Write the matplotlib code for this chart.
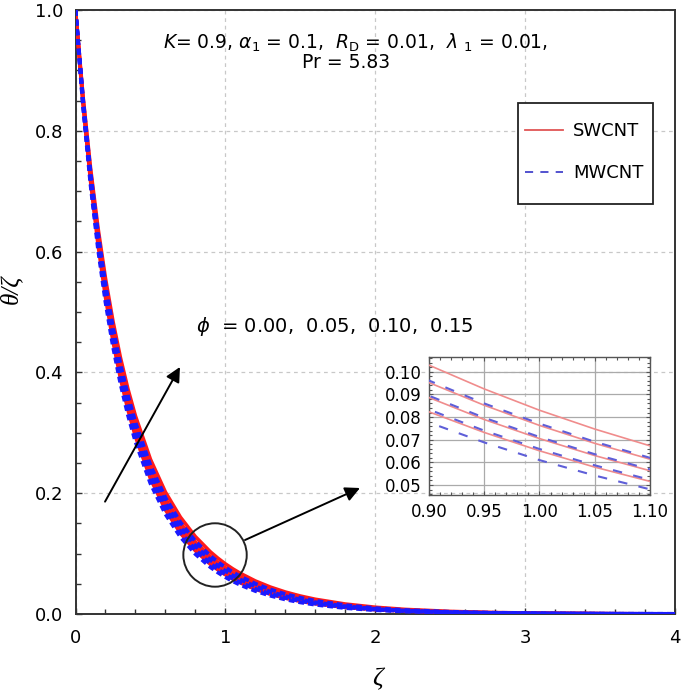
import matplotlib
matplotlib.use("Agg")
import matplotlib.pyplot as plt
from matplotlib.lines import Line2D
from matplotlib.patches import Ellipse, Rectangle
from matplotlib.ticker import MultipleLocator, FormatStrFormatter

plt.rcParams['font.family'] = ['DejaVu Sans']
plt.rcParams['mathtext.fontset'] = 'dejavusans'

# ---- data ----
zeta = [0, 0.05, 0.1, 0.15, 0.2, 0.25, 0.3, 0.35, 0.4, 0.5, 0.6, 0.7, 0.8, 0.9, 0.95,
        1.0, 1.05, 1.1, 1.2, 1.3, 1.4, 1.5, 1.6, 1.8, 2.0, 2.2, 2.5, 2.8, 3.2, 3.6, 4.0]
phi_labels = ["0.00", "0.05", "0.10", "0.15"]

swcnt_phi015 = [1, 0.8576, 0.7389, 0.6395, 0.5557, 0.4847, 0.4242, 0.3724, 0.3278, 0.2561, 0.2018, 0.1603, 0.1281, 0.1029, 0.0924, 0.083, 0.0747, 0.0673, 0.0547, 0.0446, 0.0364, 0.0298, 0.0244, 0.0165, 0.0112, 0.0076, 0.0043, 0.0024, 0.0011, 0.0005, 0.0002]
swcnt_phi010 = [1, 0.8531, 0.7314, 0.6299, 0.5447, 0.4729, 0.412, 0.3601, 0.3156, 0.2445, 0.1911, 0.1506, 0.1194, 0.0952, 0.0852, 0.0763, 0.0684, 0.0614, 0.0495, 0.0401, 0.0325, 0.0264, 0.0215, 0.0143, 0.0096, 0.0064, 0.0035, 0.002, 0.0009, 0.0004, 0.0002]
swcnt_phi005 = [1, 0.8489, 0.7243, 0.6209, 0.5346, 0.462, 0.4008, 0.3489, 0.3046, 0.2341, 0.1816, 0.142, 0.1118, 0.0886, 0.0789, 0.0705, 0.063, 0.0563, 0.0451, 0.0363, 0.0292, 0.0236, 0.0191, 0.0126, 0.0083, 0.0055, 0.003, 0.0016, 0.0007, 0.0003, 0.0001]
swcnt_phi000 = [1, 0.8447, 0.7173, 0.6121, 0.5246, 0.4515, 0.39, 0.338, 0.2939, 0.2241, 0.1725, 0.1339, 0.1047, 0.0823, 0.0732, 0.0651, 0.0579, 0.0516, 0.0411, 0.0328, 0.0263, 0.0211, 0.017, 0.011, 0.0072, 0.0047, 0.0025, 0.0013, 0.0006, 0.0002, 0.0001]

mwcnt_phi015 = [1, 0.8536, 0.7322, 0.631, 0.546, 0.4743, 0.4134, 0.3615, 0.3171, 0.2458, 0.1924, 0.1517, 0.1204, 0.0961, 0.086, 0.0771, 0.0691, 0.062, 0.0501, 0.0406, 0.0329, 0.0268, 0.0218, 0.0146, 0.0097, 0.0065, 0.0036, 0.002, 0.0009, 0.0004, 0.0002]
mwcnt_phi010 = [1, 0.8494, 0.7252, 0.622, 0.5358, 0.4634, 0.4022, 0.3502, 0.3059, 0.2353, 0.1828, 0.1431, 0.1127, 0.0894, 0.0797, 0.0712, 0.0636, 0.0569, 0.0457, 0.0367, 0.0296, 0.024, 0.0194, 0.0128, 0.0084, 0.0056, 0.003, 0.0016, 0.0007, 0.0003, 0.0001]
mwcnt_phi005 = [1, 0.8454, 0.7184, 0.6135, 0.5262, 0.4531, 0.3916, 0.3397, 0.2955, 0.2256, 0.1739, 0.1352, 0.1058, 0.0833, 0.074, 0.0659, 0.0587, 0.0523, 0.0417, 0.0334, 0.0267, 0.0215, 0.0173, 0.0112, 0.0073, 0.0048, 0.0026, 0.0014, 0.0006, 0.0003, 0.0001]
mwcnt_phi000 = [1, 0.8414, 0.7117, 0.605, 0.5167, 0.443, 0.3814, 0.3294, 0.2855, 0.2163, 0.1655, 0.1277, 0.0993, 0.0776, 0.0688, 0.061, 0.0542, 0.0481, 0.0381, 0.0303, 0.0241, 0.0193, 0.0154, 0.0099, 0.0064, 0.0041, 0.0022, 0.0011, 0.0005, 0.0002, 0.0001]

swcnt = [swcnt_phi000, swcnt_phi005, swcnt_phi010, swcnt_phi015]
mwcnt = [mwcnt_phi000, mwcnt_phi005, mwcnt_phi010, mwcnt_phi015]

W, H = 685, 695
fig = plt.figure(figsize=(W / 100, H / 100), dpi=100)

def fx(px):
    return px / W

def fy(py):
    return 1 - py / H

# ---- main axes ----
L, R, T, B = 75.5, 675, 10, 614
ax = fig.add_axes([fx(L), fy(B), (R - L) / W, (B - T) / H])
ax.set_xlim(0, 4)
ax.set_ylim(0, 1.0)

def axy(py):
    return (B - py) / (B - T)

def axx(px):
    return (px - L) / (R - L)

for ys in swcnt:
    ax.plot(zeta, ys, color='#ff1a1a', lw=2.6, solid_capstyle='butt', zorder=3)
for ys in mwcnt:
    ax.plot(zeta, ys, color='#1a1aff', lw=2.8, linestyle=(0, (1.5, 1.0)),
            dash_capstyle='butt', zorder=4)

ax.xaxis.set_major_locator(MultipleLocator(1))
ax.xaxis.set_minor_locator(MultipleLocator(0.2))
ax.yaxis.set_major_locator(MultipleLocator(0.2))
ax.yaxis.set_minor_locator(MultipleLocator(0.05))
ax.xaxis.set_major_formatter(FormatStrFormatter('%d'))
ax.yaxis.set_major_formatter(FormatStrFormatter('%.1f'))
ax.tick_params(which='both', direction='in', top=False, right=False,
               width=1.0, color='#333333', labelsize=13)
ax.tick_params(which='major', length=4)
ax.tick_params(which='minor', length=3.5)
ax.tick_params(axis='x', pad=11)
ax.tick_params(axis='y', pad=9)
ax.grid(True, which='major', color='#c8c8c8', lw=0.9, linestyle=(0, (3, 3)))
for s in ax.spines.values():
    s.set_color('#333333')
    s.set_linewidth(1.4)

# annotation text
ax.text(axx(356), axy(43), r"$K$= 0.9, $\alpha_1$ = 0.1,  $R_{\mathrm{D}}$ = 0.01,  $\lambda\ _1$ = 0.01,",
        transform=ax.transAxes, ha='center', va='center', fontsize=13.5)
ax.text(axx(346), axy(63), "Pr = 5.83", transform=ax.transAxes,
        ha='center', va='center', fontsize=13.5)
ax.text(axx(335), axy(327),
        r"$\phi$  = " + ",  ".join(phi_labels), transform=ax.transAxes,
        ha='center', va='center', fontsize=14)

# arrow across the family of curves
ax.annotate("", xy=(0.697, 0.409), xytext=(0.197, 0.186),
            arrowprops=dict(arrowstyle='-|>', mutation_scale=22, lw=1.4, color='black',
                            shrinkA=0, shrinkB=0), zorder=6)
# zoom circle and arrow to the inset
ax.add_patch(Ellipse((0.931, 0.0977), 0.423, 0.105, fill=False, lw=1.4,
                     edgecolor='#222222', zorder=6))
ax.annotate("", xy=(1.898, 0.2086), xytext=(1.131, 0.1225),
            arrowprops=dict(arrowstyle='-|>', mutation_scale=22, lw=1.4, color='black',
                            shrinkA=0, shrinkB=0), zorder=6)

# legend (frame drawn separately)
ax.add_patch(Rectangle((fx(518), fy(204)), (653 - 518) / W, (204 - 103) / H,
                       transform=fig.transFigure, fill=True, facecolor='white',
                       edgecolor='#222222', lw=1.3, zorder=9, clip_on=False))
handles = [Line2D([], [], color='#e05555', lw=1.3),
           Line2D([], [], color='#4444cc', lw=1.3, linestyle=(0, (4.5, 4)))]
leg = ax.legend(handles, ['SWCNT', 'MWCNT'], loc='upper left',
                bbox_to_anchor=(axx(525), axy(122)),
                borderaxespad=0, borderpad=0, fontsize=13, frameon=False,
                labelspacing=1.35, handlelength=2.1, handletextpad=0.55)
leg.set_zorder(10)

# axis labels
fig.text(fx(11), fy(289), "θ/ζ", rotation=90, ha='center', va='center',
         fontsize=18, family='Liberation Serif', style='italic')
fig.text(fx(377), fy(679), "ζ", ha='center', va='center',
         fontsize=19, family='Liberation Serif', style='italic')

# ---- inset ----
iL, iR, iT, iB = 429, 650, 357, 495
ins = fig.add_axes([fx(iL), fy(iB), (iR - iL) / W, (iB - iT) / H])
ins.set_facecolor('none')
for ys in swcnt:
    ins.plot(zeta, ys, color='#f08c8c', lw=1.2, zorder=3)
for ys in mwcnt:
    ins.plot(zeta, ys, color='#5f5fd8', lw=1.5, linestyle=(0, (4.5, 5.5)), zorder=4)
ins.set_xlim(0.9, 1.1)
ins.set_ylim(0.0456, 0.1065)
ins.xaxis.set_major_locator(MultipleLocator(0.05))
ins.xaxis.set_minor_locator(MultipleLocator(0.01))
ins.yaxis.set_major_locator(MultipleLocator(0.01))
ins.yaxis.set_minor_locator(MultipleLocator(0.002))
ins.xaxis.set_major_formatter(FormatStrFormatter('%.2f'))
ins.yaxis.set_major_formatter(FormatStrFormatter('%.2f'))
ins.tick_params(which='both', direction='in', top=True, right=True,
                color='#555555', width=0.8, labelsize=12)
ins.tick_params(which='major', length=3)
ins.tick_params(which='minor', length=2)
ins.tick_params(axis='x', pad=6)
ins.tick_params(axis='y', pad=5)
ins.grid(True, which='major', color='#aaaaaa', lw=0.9, linestyle='-')
for s in ins.spines.values():
    s.set_color('#555555')
    s.set_linewidth(1.0)

fig.savefig("out.png", dpi=100)
